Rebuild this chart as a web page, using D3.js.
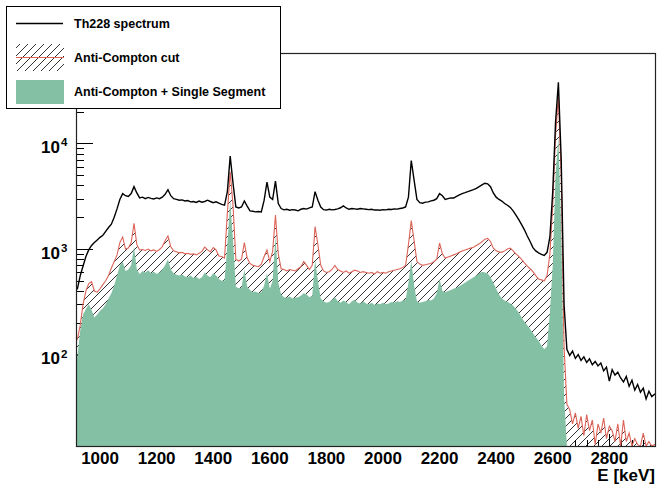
<!DOCTYPE html>
<html>
<head>
<meta charset="utf-8">
<script src="https://cdn.jsdelivr.net/npm/d3@7"></script>
<style>
body { margin: 0; background: #fff; }
text { font-family: "Liberation Sans", Arial, Helvetica, sans-serif; font-weight: bold; }
</style>
</head>
<body>
<div id="chart"></div>
<script>
// histogram binning (keV)
const binStart = 915;
const binWidth = 10;

// counts per 10 keV bin
const th228 = [
  420, 560, 690, 850, 980, 1080, 1150, 1220, 1290, 1350,
  1470, 1600, 1720, 2000, 2400, 2950, 3350, 3200, 3150, 3350,
  3900, 3400, 3050, 3100, 3000, 3080, 3020, 2980, 3050, 3000,
  3100, 3300, 3650, 3200, 3000, 2950, 2900, 2920, 2850, 2880,
  2800, 2820, 2760, 2850, 2780, 2820, 2900, 2820, 2750, 2800,
  2720, 2650, 2600, 3500, 7600, 4200, 2500, 2450, 2500, 2850,
  2550, 2300, 2280, 2250, 2270, 2250, 2900, 4300, 3100, 2950,
  4400, 2700, 2420, 2350, 2380, 2330, 2360, 2340, 2300, 2380,
  2420, 2390, 2450, 2500, 3500, 2900, 2500, 2360, 2340, 2380,
  2350, 2370, 2400, 2460, 2560, 2450, 2380, 2420, 2400, 2380,
  2420, 2400, 2380, 2360, 2380, 2340, 2350, 2330, 2360, 2350,
  2380, 2370, 2400, 2390, 2420, 2450, 2500, 3100, 6900, 4500,
  2950, 2750, 2720, 2780, 2800, 2860, 2900, 3000, 3350, 3200,
  2950, 3000, 3050, 3040, 3150, 3250, 3350, 3420, 3500, 3580,
  3650, 3750, 3900, 4050, 4200, 4150, 3900, 3400, 3100, 2950,
  2850, 2700, 2600, 2480, 2300, 2100, 1900, 1700, 1520, 1330,
  1180, 1030, 960, 920, 890, 870, 930, 1300, 3500, 16000,
  38000, 7000, 300, 112, 98, 108, 92, 100, 88, 95,
  84, 91, 80, 86, 78, 83, 70, 76, 56, 72,
  64, 68, 60, 55, 62, 50, 57, 46, 52, 44,
  48, 38, 45, 40, 42
];

const antiCompton = [
  140, 190, 300, 400, 470, 490, 400, 390, 420, 460,
  500, 560, 660, 760, 880, 1150, 1300, 1000, 1020, 1150,
  1750, 1100, 980, 990, 970, 1000, 960, 980, 950, 990,
  1050, 1200, 1330, 1050, 960, 940, 920, 930, 900, 910,
  890, 900, 880, 910, 950, 1040, 980, 940, 1030, 980,
  860, 850, 820, 2200, 5400, 2600, 800, 770, 800, 1150,
  820, 730, 700, 690, 680, 720, 850, 980, 760, 950,
  2100, 900, 650, 640, 620, 640, 630, 620, 650, 680,
  760, 700, 640, 700, 1630, 1100, 700, 620, 600, 610,
  640, 700, 640, 620, 600, 620, 590, 610, 630, 620,
  600, 610, 600, 590, 600, 580, 610, 590, 600, 590,
  610, 620, 630, 640, 650, 670, 700, 1100, 1860, 1200,
  760, 720, 700, 710, 720, 730, 760, 800, 1140, 900,
  820, 840, 860, 880, 900, 930, 960, 980, 1000, 1020,
  1040, 1080, 1120, 1170, 1240, 1260, 1180, 1020, 960, 940,
  930, 960, 1000, 1020, 960, 900, 850, 800, 740, 690,
  650, 610, 560, 520, 510, 500, 560, 900, 2600, 12000,
  27800, 5000, 120, 34, 30, 22, 28, 20, 26, 17,
  27, 19, 24, 14, 22, 18, 25, 16, 21, 19,
  15, 22, 12, 24, 15, 18, 11, 16, 14, 10,
  18, 12, 15, 9, 14
];

const singleSegment = [
  95, 170, 240, 270, 300, 265, 225, 240, 260, 275,
  300, 340, 380, 450, 560, 700, 760, 620, 640, 700,
  1050, 640, 580, 620, 600, 630, 590, 610, 580, 600,
  640, 700, 800, 640, 590, 570, 560, 575, 550, 540,
  560, 530, 545, 520, 540, 600, 560, 540, 590, 560,
  520, 500, 500, 1100, 2860, 1200, 440, 425, 430, 640,
  440, 410, 390, 395, 380, 390, 450, 590, 420, 500,
  1330, 480, 370, 350, 345, 355, 340, 345, 350, 360,
  380, 370, 350, 360, 790, 500, 340, 320, 310, 315,
  330, 350, 320, 310, 325, 315, 300, 320, 330, 310,
  305, 320, 305, 300, 310, 295, 305, 300, 310, 300,
  305, 315, 310, 320, 315, 325, 330, 480, 775, 450,
  320, 310, 315, 320, 330, 325, 340, 380, 520, 400,
  390, 400, 410, 420, 430, 445, 460, 480, 500, 520,
  540, 560, 590, 610, 600, 590, 540, 480, 420, 370,
  340, 325, 315, 305, 290, 270, 250, 225, 205, 190,
  175, 160, 145, 135, 122, 112, 120, 250, 700, 5000,
  11500, 1500, 40, 0, 0, 0, 0, 0, 0, 0,
  0, 0, 0, 0, 0, 0, 0, 0, 0, 0,
  0, 0, 0, 0, 0, 0, 0, 0, 0, 0,
  0, 0, 0, 0, 0
];

const xTicks = [1000, 1200, 1400, 1600, 1800, 2000, 2200, 2400, 2600, 2800];
const yDecades = [100, 1000, 10000];
const legendLabels = ["Th228 spectrum", "Anti-Compton cut", "Anti-Compton + Single Segment"];

const width = 657;
const height = 485;
const frame = {left: 76, right: 656, top: 53, bottom: 446};

const black = "#000";
const red = "#dc6459";
const green = "#84c1a4";

let svg = d3.select("#chart")
  .append("svg")
    .attr("width", width)
    .attr("height", height)
    .style("display", "block");

svg.append("rect").attr("width", width).attr("height", height).attr("fill", "#fff");

const defs = svg.append("defs");
defs.append("pattern")
    .attr("id", "hatch")
    .attr("patternUnits", "userSpaceOnUse")
    .attr("width", 8)
    .attr("height", 8)
  .append("path")
    .attr("d", "M-2,2L2,-2M0,8L8,0M6,10L10,6")
    .attr("stroke", "#000")
    .attr("stroke-width", 0.8);
defs.append("clipPath").attr("id", "plotclip")
  .append("rect")
    .attr("x", frame.left).attr("y", frame.top)
    .attr("width", frame.right - frame.left).attr("height", frame.bottom - frame.top);

const nBins = th228.length;
let x = d3.scaleLinear()
  .domain([binStart, binStart + nBins * binWidth])
  .range([frame.left, frame.right]);
let y = d3.scaleLog()
  .domain([13.6, 72000])
  .range([frame.bottom, frame.top])
  .clamp(true);

// fine-binned spectra look like a polyline through the bin centres
function centres(values) {
  let pts = values.map((v, i) => [binStart + (i + 0.5) * binWidth, v]);
  pts.unshift([binStart, values[0]]);
  pts.push([binStart + values.length * binWidth, values[values.length - 1]]);
  return pts;
}
const yv = v => (v <= 0 ? frame.bottom : y(v));

let line = d3.line()
  .x(d => x(d[0]))
  .y(d => yv(d[1]));
let area = d3.area()
  .x(d => x(d[0]))
  .y0(frame.bottom)
  .y1(d => yv(d[1]));

// ticks (drawn under the histograms, like ROOT's "same" overlays)
let ticks = svg.append("g").attr("stroke", "#000").attr("stroke-width", 1);
for (let e = 920; e <= 2960; e += 40) {
  let major = xTicks.includes(e);
  ticks.append("line")
    .attr("x1", Math.round(x(e)) + 0.5).attr("x2", Math.round(x(e)) + 0.5)
    .attr("y1", frame.bottom).attr("y2", frame.bottom - (major ? 12 : 6));
}
[10, 100, 1000, 10000].forEach(dec => {
  for (let k = 1; k <= 9; k++) {
    let v = k * dec;
    if (v < 13.6 || v > 72000) continue;
    let major = yDecades.includes(v);
    ticks.append("line")
      .attr("x1", frame.left).attr("x2", frame.left + (major ? 17 : 8))
      .attr("y1", Math.round(y(v)) + 0.5).attr("y2", Math.round(y(v)) + 0.5);
  }
});

let plot = svg.append("g").attr("clip-path", "url(#plotclip)");

plot.append("path")
  .attr("d", area(centres(antiCompton)))
  .attr("fill", "url(#hatch)");

plot.append("path")
  .attr("d", area(centres(singleSegment)))
  .attr("fill", green);

plot.append("path")
  .attr("d", line(centres(antiCompton)))
  .attr("fill", "none")
  .attr("stroke", red)
  .attr("stroke-width", 1.1);

plot.append("path")
  .attr("d", line(centres(th228)))
  .attr("fill", "none")
  .attr("stroke", black)
  .attr("stroke-width", 1.4);

// frame
svg.append("rect")
  .attr("x", frame.left + 0.5).attr("y", frame.top + 0.5)
  .attr("width", frame.right - frame.left - 1).attr("height", frame.bottom - frame.top)
  .attr("fill", "none")
  .attr("stroke", "#222")
  .attr("stroke-width", 1.2);

// axis labels
svg.selectAll("text.xlab")
  .data(xTicks)
  .enter()
  .append("text")
    .attr("class", "xlab")
    .attr("x", d => x(d))
    .attr("y", 464)
    .attr("text-anchor", "middle")
    .attr("font-size", "17px")
    .text(d => d);

yDecades.forEach(v => {
  let ty = y(v);
  svg.append("text")
    .attr("x", 60).attr("y", ty + 9.7)
    .attr("text-anchor", "end")
    .attr("font-size", "17px")
    .text("10");
  svg.append("text")
    .attr("x", 61).attr("y", ty + 3)
    .attr("font-size", "11.5px")
    .text(Math.round(Math.log10(v)));
});

svg.append("text")
  .attr("x", 655).attr("y", 481)
  .attr("text-anchor", "end")
  .attr("font-size", "17px")
  .text("E [keV]");

// legend
let legend = svg.append("g");
legend.append("rect")
  .attr("x", 6.5).attr("y", 6.5)
  .attr("width", 274).attr("height", 102)
  .attr("fill", "#fff")
  .attr("stroke", "#000")
  .attr("stroke-width", 1);

legend.append("line")
  .attr("x1", 16).attr("x2", 63)
  .attr("y1", 23.5).attr("y2", 23.5)
  .attr("stroke", black).attr("stroke-width", 1.3);
legend.append("rect")
  .attr("x", 16).attr("y", 44)
  .attr("width", 48).attr("height", 27)
  .attr("fill", "url(#hatch)");
legend.append("line")
  .attr("x1", 16).attr("x2", 64)
  .attr("y1", 57.5).attr("y2", 57.5)
  .attr("stroke", red).attr("stroke-width", 1);
legend.append("rect")
  .attr("x", 16).attr("y", 80)
  .attr("width", 48).attr("height", 24)
  .attr("fill", green);

legend.selectAll("text")
  .data(legendLabels)
  .enter()
  .append("text")
    .attr("x", 74)
    .attr("y", (d, i) => [28, 62, 96][i])
    .attr("font-size", "12.5px")
    .text(d => d);
</script>
</body>
</html>
